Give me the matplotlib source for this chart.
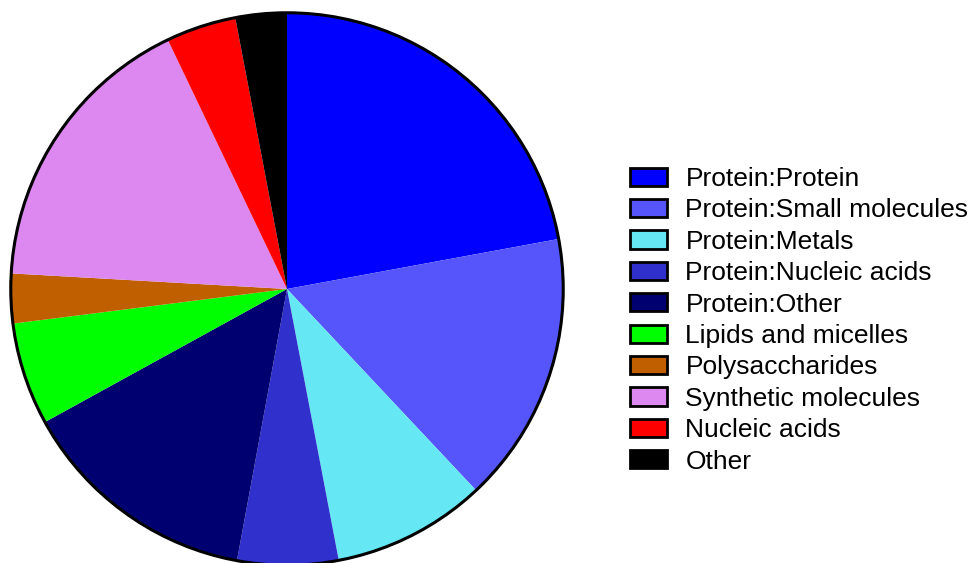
import matplotlib.pyplot as plt
from matplotlib.patches import Rectangle, Circle

plt.rcParams['font.family'] = ['Liberation Sans', 'DejaVu Sans']

categories = ['Protein:Protein', 'Protein:Small molecules', 'Protein:Metals',
              'Protein:Nucleic acids', 'Protein:Other', 'Lipids and micelles',
              'Polysaccharides', 'Synthetic molecules', 'Nucleic acids', 'Other']
shares = [22.1, 15.9, 9.0, 5.9, 14.1, 6.0, 2.9, 17.0, 4.1, 3.0]
colors = ['#0000ff', '#5555fb', '#66e8f4', '#3030cc', '#000070', '#00ff00',
          '#bf5f00', '#dc88f0', '#ff0000', '#000000']

W, H = 976, 563
fig = plt.figure(figsize=(W / 100, H / 100), dpi=100)

# pie centre (287, 289) px, radius 279 px
cx, cy, r = 287, 289, 279
ax = fig.add_axes([(cx - r) / W, (H - cy - r) / H, 2 * r / W, 2 * r / H])
ax.pie(shares, colors=colors, startangle=90, counterclock=False, radius=1,
       wedgeprops=dict(linewidth=0))
ax.add_patch(Circle((0, 0), 1, fill=False, edgecolor='black', linewidth=2.2))
ax.set_xlim(-1.01, 1.01)
ax.set_ylim(-1.01, 1.01)
ax.set_aspect('equal')
ax.axis('off')

handles = [Rectangle((0, 0), 1, 1, facecolor=c, edgecolor='black', linewidth=2)
           for c in colors]
fig.legend(handles, categories, loc='upper left',
           bbox_to_anchor=(630 / W, 1 - 167 / H), frameon=False,
           fontsize=19, handlelength=1.4, handleheight=0.68,
           handletextpad=0.7, labelspacing=0.28, borderpad=0,
           borderaxespad=0)

fig.savefig('out.png', dpi=100)
